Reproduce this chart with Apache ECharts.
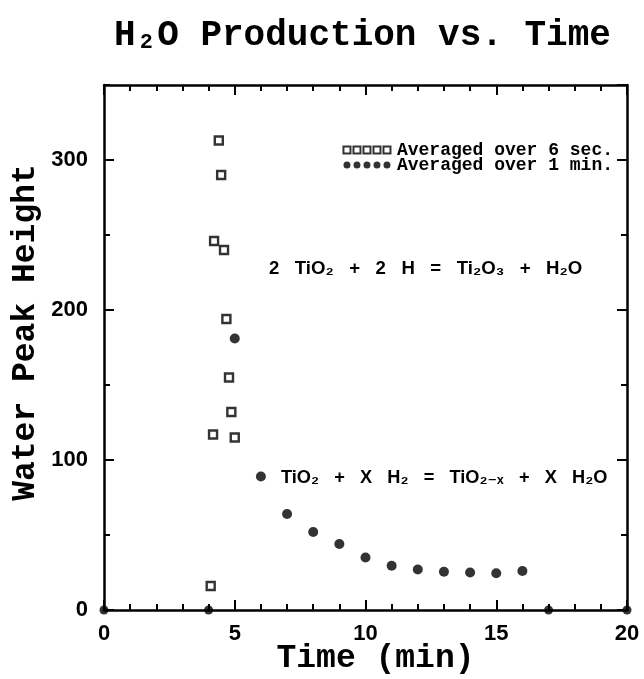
<!DOCTYPE html>
<html>
<head>
<meta charset="utf-8">
<script src="https://cdn.jsdelivr.net/npm/echarts@6/dist/echarts.min.js"></script>
<style>
  html, body { margin: 0; padding: 0; background: #fff; }
  #chart { width: 644px; height: 679px; }
</style>
</head>
<body>
<div id="chart"></div>
<script>
// averaged over 6 sec (hollow squares)
const sixSecTime = [4.08, 4.17, 4.21, 4.39, 4.48, 4.59, 4.68, 4.78, 4.87, 5.0];
const sixSecHeight = [16, 117, 246, 313, 290, 240, 194, 155, 132, 115];

// averaged over 1 min (filled dots)
const oneMinTime = [5, 6, 7, 8, 9, 10, 11, 12, 13, 14, 15, 16];
const oneMinHeight = [181, 89, 64, 52, 44, 35, 29.5, 27, 25.5, 25, 24.5, 26];

// dots sitting on the time axis
const axisDotTime = [0, 4, 17, 20];
const axisDotHeight = [0, 0, 0, 0];

const timeRange = [0, 20];
const heightRange = [0, 350];

const pairs = (xs, ys) => xs.map((x, i) => [x, ys[i]]);

const monoFont = "'Liberation Mono', 'DejaVu Sans Mono', monospace";
const sansFont = "'Liberation Sans', 'DejaVu Sans', sans-serif";

const fiveSquares = 'path://M0,0h7v7h-7z M10,0h7v7h-7z M20,0h7v7h-7z M30,0h7v7h-7z M40,0h7v7h-7z';
const fiveDots = 'path://M0,3.5a3.5,3.5 0 1,0 7,0a3.5,3.5 0 1,0 -7,0z' +
  'M10,3.5a3.5,3.5 0 1,0 7,0a3.5,3.5 0 1,0 -7,0z' +
  'M20,3.5a3.5,3.5 0 1,0 7,0a3.5,3.5 0 1,0 -7,0z' +
  'M30,3.5a3.5,3.5 0 1,0 7,0a3.5,3.5 0 1,0 -7,0z' +
  'M40,3.5a3.5,3.5 0 1,0 7,0a3.5,3.5 0 1,0 -7,0z';

const line = { show: true, onZero: false, lineStyle: { color: '#000', width: 2.5 } };

function xAxisOf(position, withLabels) {
  return {
    type: 'value',
    position: position,
    min: timeRange[0],
    max: timeRange[1],
    interval: 5,
    axisLine: line,
    axisTick: { inside: true, length: 10, lineStyle: { color: '#000', width: 2 } },
    minorTick: { show: true, splitNumber: 5, length: 6, lineStyle: { color: '#000', width: 2 } },
    axisLabel: {
      show: withLabels,
      color: '#000',
      fontFamily: sansFont,
      fontWeight: 'bold',
      fontSize: 22,
      margin: 13
    },
    splitLine: { show: false },
    minorSplitLine: { show: false }
  };
}

function yAxisOf(position, interval, tickLen, withLabels) {
  return {
    type: 'value',
    position: position,
    min: heightRange[0],
    max: heightRange[1],
    interval: interval,
    axisLine: interval === 100 ? line : { show: false, onZero: false },
    axisTick: { inside: true, length: tickLen, lineStyle: { color: '#000', width: 2 } },
    axisLabel: {
      show: withLabels,
      showMaxLabel: false,
      color: '#000',
      fontFamily: sansFont,
      fontWeight: 'bold',
      fontSize: 22,
      margin: 16
    },
    splitLine: { show: false }
  };
}

const xBottom = xAxisOf('bottom', true);
xBottom.name = 'Time (min)';
xBottom.nameLocation = 'middle';
xBottom.nameGap = 32;
xBottom.nameMoveOverlap = false;
xBottom.nameTextStyle = { color: '#000', fontFamily: monoFont, fontWeight: 'bold', fontSize: 33, padding: [0, 0, 0, 20] };

const yLeft = yAxisOf('left', 100, 10, true);
yLeft.name = 'Water Peak Height';
yLeft.nameLocation = 'middle';
yLeft.nameGap = 62;
yLeft.nameMoveOverlap = false;
yLeft.nameTextStyle = { color: '#000', fontFamily: monoFont, fontWeight: 'bold', fontSize: 33, padding: [0, 0, 0, 30] };

const chart = echarts.init(document.getElementById('chart'));
chart.setOption({
  animation: false,
  backgroundColor: '#fff',
  title: {
    text: 'H₂O Production vs. Time',
    left: 114,
    top: 18,
    padding: 0,
    textStyle: { color: '#000', fontFamily: monoFont, fontWeight: 'bold', fontSize: 36 }
  },
  grid: { left: 104, right: 17, top: 85, bottom: 69, containLabel: false, outerBoundsMode: 'none' },
  legend: {
    orient: 'vertical',
    right: 31,
    top: 141,
    padding: 0,
    itemGap: -3,
    itemWidth: 50,
    itemHeight: 7,
    selectedMode: false,
    textStyle: { color: '#000', fontFamily: monoFont, fontWeight: 'bold', fontSize: 18, lineHeight: 15 },
    data: [
      { name: 'Averaged over 6 sec.', icon: fiveSquares },
      { name: 'Averaged over 1 min.', icon: fiveDots }
    ]
  },
  xAxis: [xBottom, xAxisOf('top', false)],
  yAxis: [
    yLeft,
    yAxisOf('left', 50, 6, false),
    yAxisOf('right', 100, 10, false),
    yAxisOf('right', 50, 6, false)
  ],
  graphic: [
    {
      type: 'text',
      left: 269,
      top: 259,
      style: {
        text: '2   TiO₂   +   2   H   =   Ti₂O₃   +   H₂O',
        fill: '#000',
        font: 'bold 18.6px ' + sansFont
      }
    },
    {
      type: 'text',
      left: 281,
      top: 469,
      style: {
        text: 'TiO₂   +   X   H₂   =   TiO₂₋ₓ   +   X   H₂O',
        fill: '#000',
        font: 'bold 18.2px ' + sansFont
      }
    }
  ],
  series: [
    {
      name: 'Averaged over 6 sec.',
      type: 'scatter',
      clip: false,
      symbol: 'rect',
      symbolSize: 8,
      itemStyle: { color: '#fff', borderColor: '#000', borderWidth: 2.4 },
      data: pairs(sixSecTime, sixSecHeight)
    },
    {
      name: 'Averaged over 1 min.',
      type: 'scatter',
      clip: false,
      symbol: 'circle',
      symbolSize: 10,
      itemStyle: { color: '#000' },
      data: pairs(oneMinTime, oneMinHeight)
    },
    {
      name: 'axis dots',
      type: 'scatter',
      clip: false,
      symbol: 'circle',
      symbolSize: 9,
      itemStyle: { color: '#000' },
      data: pairs(axisDotTime, axisDotHeight)
    }
  ]
});
</script>
</body>
</html>
